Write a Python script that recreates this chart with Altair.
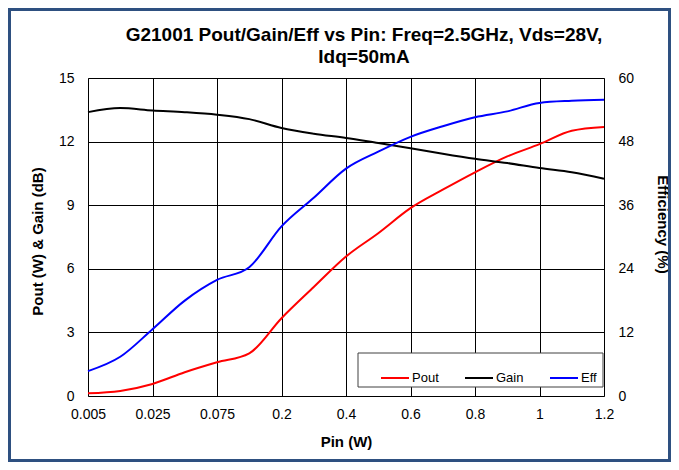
import altair as alt
import pandas as pd

pin = ["0.005", "0.0125", "0.025", "0.05", "0.075", "0.1", "0.2", "0.3", "0.4",
       "0.5", "0.6", "0.7", "0.8", "0.9", "1", "1.1", "1.2"]
pin_labels = ["0.005", "0.025", "0.075", "0.2", "0.4", "0.6", "0.8", "1", "1.2"]
pout = [0.13, 0.24, 0.57, 1.12, 1.59, 2.01, 3.67, 5.14, 6.58, 7.68, 8.86,
        9.73, 10.55, 11.30, 11.88, 12.51, 12.69]
gain = [13.39, 13.58, 13.47, 13.39, 13.27, 13.06, 12.64, 12.37, 12.17, 11.93,
        11.69, 11.43, 11.19, 10.99, 10.75, 10.55, 10.25]
eff = [4.7, 7.4, 12.6, 18.0, 21.9, 24.3, 32.0, 37.4, 42.9, 46.1, 48.9, 50.9,
       52.6, 53.7, 55.3, 55.7, 55.9]
series = ["Pout", "Gain", "Eff"]
colors = ["#FF0000", "#000000", "#0000FF"]
title_lines = ["G21001 Pout/Gain/Eff vs Pin: Freq=2.5GHz, Vds=28V,", "Idq=50mA"]

left_df = pd.DataFrame(
    [{"Pin": p, "series": "Pout", "value": v} for p, v in zip(pin, pout)]
    + [{"Pin": p, "series": "Gain", "value": v} for p, v in zip(pin, gain)]
)
right_df = pd.DataFrame([{"Pin": p, "series": "Eff", "value": v} for p, v in zip(pin, eff)])

FONT = "Liberation Sans"

x_enc = alt.X(
    "Pin:N",
    sort=pin,
    scale=alt.Scale(type="point", domain=pin, padding=0),
    axis=alt.Axis(
        values=pin_labels, title="Pin (W)", labelAngle=0, ticks=False, domain=False,
        labelPadding=11, titleX=258, titleY=45, titleBaseline="middle",
        grid=True, gridColor="#000000", gridWidth=1,
    ),
)
color_enc = alt.Color(
    "series:N",
    scale=alt.Scale(domain=series, range=colors),
    legend=alt.Legend(
        title=None, orient="none", legendX=292, legendY=285, direction="horizontal",
        symbolType="stroke", symbolSize=784, symbolStrokeWidth=2,
        labelFont=FONT, labelFontSize=13, labelColor="#000000",
        labelOffset=2, columnPadding=22, padding=0,
    ),
)

left = alt.Chart(left_df).mark_line(strokeWidth=2, interpolate="monotone").encode(
    x=x_enc,
    y=alt.Y(
        "value:Q",
        scale=alt.Scale(domain=[0, 15]),
        axis=alt.Axis(
            orient="left", values=[0, 3, 6, 9, 12, 15], title="Pout (W) & Gain (dB)",
            ticks=False, domain=False, labelPadding=14, grid=True,
            gridColor="#000000", gridWidth=1,
            titleX=-51, titleY=163, titleBaseline="middle", titleAngle=270,
        ),
    ),
    color=color_enc,
    detail="series:N",
)

right = alt.Chart(right_df).mark_line(strokeWidth=2, interpolate="monotone").encode(
    x=x_enc,
    y=alt.Y(
        "value:Q",
        scale=alt.Scale(domain=[0, 60]),
        axis=alt.Axis(
            orient="right", values=[0, 12, 24, 36, 48, 60], title="Efficiency (%)",
            ticks=False, domain=False, labelPadding=14, grid=False,
            titleX=58, titleY=146, titleBaseline="middle", titleAngle=90,
        ),
    ),
    color=alt.Color("series:N", scale=alt.Scale(domain=series, range=colors), legend=None),
)

one = alt.Data(values=[{}])
legend_box = alt.Chart(one).mark_rect(fill="#FFFFFF", stroke="#404040", strokeWidth=1).encode(
    x=alt.value(270), x2=alt.value(515), y=alt.value(275), y2=alt.value(309)
)
frame = alt.Chart(one).mark_rect(filled=False, stroke="#2E5080", strokeWidth=3).encode(
    x=alt.value(-78.5), x2=alt.value(581.5), y=alt.value(-68.5), y2=alt.value(382.5)
)
title1 = alt.Chart(one).mark_text(
    font=FONT, fontSize=19, fontWeight="bold", color="#000000", align="center", baseline="middle"
).encode(x=alt.value(276), y=alt.value(-43), text=alt.value(title_lines[0]))
title2 = alt.Chart(one).mark_text(
    font=FONT, fontSize=19, fontWeight="bold", color="#000000", align="center", baseline="middle"
).encode(x=alt.value(276), y=alt.value(-21), text=alt.value(title_lines[1]))

chart = (
    alt.layer(left, right, legend_box, frame, title1, title2)
    .resolve_scale(y="independent")
    .properties(
        width=516,
        height=318,
        autosize=alt.AutoSizeParams(type="none"),
        padding={"left": 80, "top": 70, "right": 67, "bottom": 66},
    )
    .configure(background="#FFFFFF")
    .configure_view(stroke="#808080", strokeWidth=1)
    .configure_axis(
        labelFont=FONT, labelFontSize=14, labelColor="#000000",
        titleFont=FONT, titleFontSize=15, titleFontWeight="bold", titleColor="#000000",
    )
)

chart.save("out.html", embed_options={"renderer": "svg", "actions": False})
